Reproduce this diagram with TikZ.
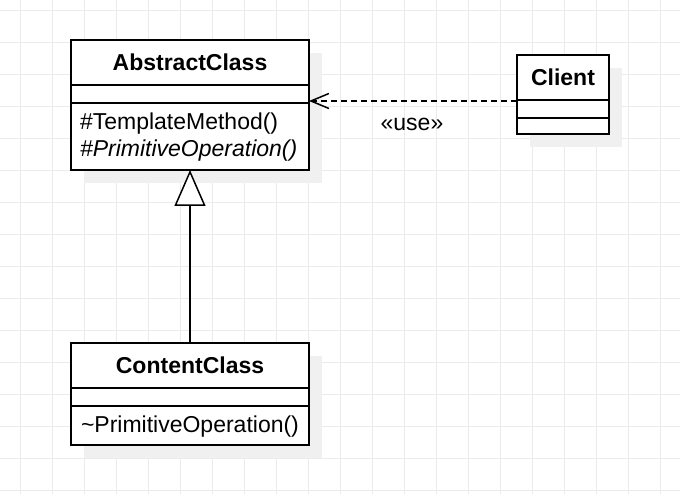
\documentclass[tikz,border=0pt]{standalone}
\usepackage{fontspec}
\setmainfont{Liberation Sans}
\usetikzlibrary{arrows.meta}
\definecolor{gridc}{HTML}{EBEBEB}
\definecolor{shadowc}{HTML}{F0F0F0}
\tikzset{
  txt/.style={font=\fontsize{23}{27}\selectfont, inner sep=0pt, outer sep=0pt},
  hdr/.style={txt, font=\fontsize{23}{27}\selectfont\bfseries, draw=black, line width=1.5pt, fill=white, anchor=north west, minimum height=45pt},
  cmp/.style={draw=black, line width=1.5pt, fill=white, inner sep=0pt, outer sep=0pt, anchor=north},
  conn/.style={line width=1.5pt, black},
  shadowbox/.style={fill=shadowc},
}
\begin{document}
\begin{tikzpicture}[x=1pt,y=-1pt]
\useasboundingbox (0,0) rectangle (680,494);
\fill[white] (0,0) rectangle (680,494);
% grid
\foreach \x in {20.5,52.5,...,680} \draw[gridc, line width=1pt] (\x,0) -- (\x,494);
\foreach \y in {10.5,42.5,...,494} \draw[gridc, line width=1pt] (0,\y) -- (680,\y);
% shadows
\fill[shadowbox] (84,53) rectangle (322,183);
\fill[shadowbox] (530,68) rectangle (622,147);
\fill[shadowbox] (84,356) rectangle (322,458);
% AbstractClass
\node[hdr, minimum width=238pt] (absH) at (71,40) {AbstractClass};
\node[cmp, minimum width=238pt, minimum height=18pt] (absA) at (absH.south) {};
\node[cmp, minimum width=238pt, minimum height=67pt] (absM) at (absA.south) {};
\node[txt, anchor=base west] (absM1) at (80,130) {\#TemplateMethod()};
\node[txt, anchor=base west] (absM2) at (80,157) {\itshape \#PrimitiveOperation()};
% Client
\node[hdr, minimum width=92pt] (clH) at (517,55) {Client};
\node[cmp, minimum width=92pt, minimum height=18pt] (clA) at (clH.south) {};
\node[cmp, minimum width=92pt, minimum height=16pt] (clM) at (clA.south) {};
% ContentClass
\node[hdr, minimum width=238pt] (ccH) at (71,343) {ContentClass};
\node[cmp, minimum width=238pt, minimum height=18pt] (ccA) at (ccH.south) {};
\node[cmp, minimum width=238pt, minimum height=39pt] (ccM) at (ccA.south) {};
\node[txt, anchor=base west] (ccM1) at (81,432.5) {\textasciitilde PrimitiveOperation()};
% connectors
\draw[conn, -{Triangle[open, length=36pt, width=31pt, fill=white]}] (ccH.north) -- (absM.south);
\coordinate (usefrom) at (517,101);
\draw[conn, dash pattern=on 6pt off 4pt, -{Straight Barb[length=18pt, width=15pt]}] (usefrom) -- (usefrom -| absM.east);
\node[txt, anchor=base] (uselbl) at (412,130.5) {«use»};
\end{tikzpicture}
\end{document}
